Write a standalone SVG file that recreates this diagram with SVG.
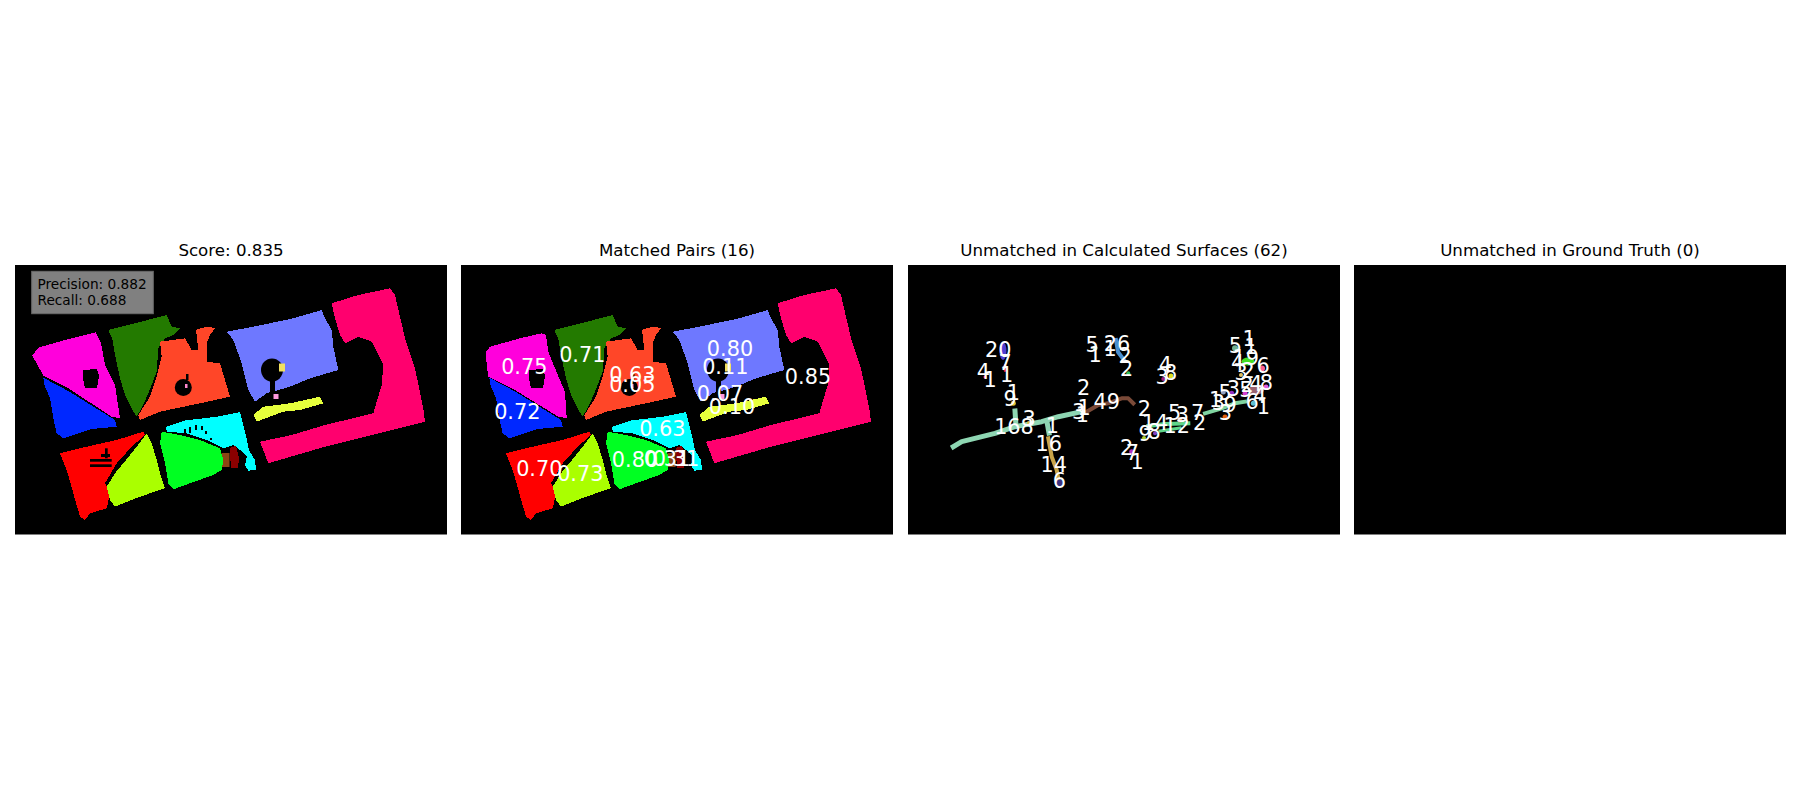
<svg xmlns="http://www.w3.org/2000/svg" xmlns:xlink="http://www.w3.org/1999/xlink" width="1800" height="800" viewBox="0 0 1800 800">
<style>
.title{font-family:"DejaVu Sans","Liberation Sans",sans-serif;font-size:16.67px;fill:#000;text-anchor:middle}
.lbl{font-family:"DejaVu Sans","Liberation Sans",sans-serif;font-size:20.8px;fill:#fff;text-anchor:middle}
.info{font-family:"DejaVu Sans","Liberation Sans",sans-serif;font-size:13.7px;fill:#000}
.panel{fill:#000}
.blk{fill:#000}
polygon{shape-rendering:crispEdges}
</style>
<defs>
<g id="base">
  <polygon fill="#0028ff" points="43.3,377.7 68.3,391 115,420 116.7,426.7 91.7,429 63.3,438.3 56.7,433.3 53.3,418.3 50,398.3 44.3,385"/>
  <polygon fill="#237a00" points="108.3,330 135,323.3 166.7,315 171.7,326.7 180,328.3 173.3,335 165,338.3 158.3,348.3 156.7,371.7 151.7,385 143.3,405 136.7,416.7 133.3,411.7 125,395 120,378.3 115,355 112.3,338.3"/>
  <polygon fill="#ff4628" points="160,341.7 185,338.3 191.7,350 198.3,350 196,330 200,328.3 208.3,326.7 215,328.3 210,335 206.7,343.3 206.7,361.7 220,363.3 230,396.7 200,403.3 160,411.7 140,420 138.3,415 150,396.7 156.7,376.7 161.7,356.7"/>
  <circle class="blk" cx="183.3" cy="387.5" r="8.5"/>
  <rect class="blk" x="186" y="374" width="2.5" height="6"/>
  <rect x="185" y="384" width="2.5" height="4" fill="#ff88cc"/>
  <polygon fill="#6e78ff" points="226.7,331.7 253.3,326.7 293.3,318.3 321.7,310 325,318.3 331.7,330 333.3,346.7 338.3,370 310,378.3 290,386.7 266.7,393.3 255,401.7 248.3,390 241.7,363.3 233.3,340"/>
  <ellipse class="blk" cx="272" cy="370" rx="11" ry="11.5"/>
  <rect class="blk" x="270" y="378" width="5" height="14"/>
  <rect x="279" y="363.5" width="6" height="8" fill="#f0e060"/>
  <rect x="273.5" y="394" width="5" height="5" fill="#ff99dd"/>
  <polygon fill="#e6ff3c" points="253.3,415 263.3,406.7 290,403.3 320,396.7 323.3,403.3 300,410 283.3,411.7 256.7,421.7"/>
  <polygon fill="#ff006e" points="331.7,303.3 358.3,295 390,288.3 395,295 405,338.3 415,368.3 423.3,408.3 425,421.7 385,431.7 325,446.7 268.3,463.3 260,441.7 291.7,435 325,425 373.3,413.3 376.7,401.7 381.7,385 383.3,365 371.7,341.7 358.3,336.7 345,343.3 340,335 335,318.3"/>
  <polygon fill="#00ffff" points="166,427 185,420.5 216.7,416.7 240,412 246,436 249,450 255,460 256,469.5 248.3,470.7 245,465 246.7,456.7 240,450 233.3,445 223.3,448.3 206.7,440 186.7,433.3 166.7,431.7"/>
  <rect x="221.5" y="453" width="8" height="14" fill="#8b4513"/>
  <polygon fill="#8b0000" points="229.5,448 236,446 239,458 238,468 231,468"/>
  <polygon fill="#00ff22" points="161.7,431.7 180,435 200,440 220,448.3 223.3,460 221.7,470 213.3,475 190,483.3 173.3,489.3 168.3,483.3 165,463.3 160,443.3"/>
  <polygon fill="#ff0000" points="60,453.3 86.7,446.7 116.7,440 143.3,431.7 145,435 131.7,446.7 116.7,463.3 105,483.3 110,493.3 106.7,508.3 90,513.3 85,520 80,516.7 73.3,493.3 66.7,470"/>
  <polygon fill="#aaff00" points="146.7,433.3 151.7,443.3 156.7,460 160,473.3 165,488.3 140,496.7 115,506.7 110,500 106.7,486.7 115,473.3 123.3,463.3 136.7,446.7"/>
</g>
</defs>

<g id="panel1">
  <text class="title" x="231" y="255.7">Score: 0.835</text>
  <rect class="panel" x="15" y="265" width="432" height="269.5"/>
  <polygon fill="#ff00dc" points="32.3,355.7 38.3,347.7 65,340 95.7,332.3 101,343.3 105,365 115,385 120,418.3 111.7,416.7 68.3,388.3 43.3,375.7 36.7,363.3"/>
  <polygon class="blk" points="83.3,370 97,369 99,376 97,388.3 85,388.3 83.3,380"/>
  <use xlink:href="#base"/>
  <g class="blk">
    <rect x="105" y="448.3" width="2.7" height="10"/>
    <rect x="101" y="454" width="9" height="3"/>
    <rect x="90" y="459" width="21.7" height="2.7"/>
    <rect x="90" y="464.3" width="21.7" height="2.7"/>
    <rect x="184" y="429" width="2" height="5"/>
    <rect x="189" y="427" width="2" height="6"/>
    <rect x="195" y="425" width="2" height="5"/>
    <rect x="201" y="426" width="2" height="4"/>
    <rect x="205" y="431" width="2" height="3"/>
    <rect x="210" y="438" width="2" height="2"/>
  </g>
  <g id="info">
    <rect x="31.7" y="271.3" width="121.6" height="42.4" fill="#808080" stroke="#6a6a6a" stroke-width="1"/>
    <text class="info" x="37.5" y="288.7">Precision: 0.882</text>
    <text class="info" x="37.5" y="304.7">Recall: 0.688</text>
  </g>
</g>

<g id="panel2">
  <text class="title" x="677" y="255.7">Matched Pairs (16)</text>
  <rect class="panel" x="461" y="265" width="432" height="269.5"/>
  <polygon fill="#ff00dc" points="486,351.7 490,346.7 520,338.3 541.7,333.3 546,335 548.3,351.7 555,368.3 565,391.7 566.7,418.3 558.3,416.7 513.3,389 488.3,376.7 486.7,365"/>
  <polygon class="blk" points="529.3,370 543,369 545,376 543,388.3 531,388.3 529.3,380"/>
  <use xlink:href="#base" transform="translate(446,0)"/>
  <g class="lbl">
    <text x="524.3" y="374.3">0.75</text>
    <text x="582.3" y="361.7">0.71</text>
    <text x="632.3" y="381.7">0.63</text>
    <text x="632.3" y="391.7">0.05</text>
    <text x="730" y="356">0.80</text>
    <text x="725.3" y="374">0.11</text>
    <text x="808" y="384.3">0.85</text>
    <text x="720" y="400.7">0.07</text>
    <text x="732" y="414">0.10</text>
    <text x="517.3" y="419.3">0.72</text>
    <text x="662.3" y="436">0.63</text>
    <text x="635" y="466.7">0.80</text>
    <text x="667" y="465.7">0.31</text>
    <text x="676" y="465.7">0.31</text>
    <text x="539.3" y="476">0.70</text>
    <text x="580.3" y="480.7">0.73</text>
  </g>
</g>

<g id="panel3">
  <text class="title" x="1124" y="255.7">Unmatched in Calculated Surfaces (62)</text>
  <rect class="panel" x="908" y="265" width="432" height="269.5"/>
  <g id="blobs" fill="none" stroke-linecap="square" stroke-linejoin="round">
    <polyline stroke="#8ed6b2" stroke-width="5" points="953.3,446.7 961.7,441.7 995,433.3 1015,426.7 1041.7,421.7 1058.3,416.7 1081.7,411.7"/>
    <polyline stroke="#8ed6b2" stroke-width="5" points="1015,411 1016,426"/>
    <polyline stroke="#8ed6b2" stroke-width="5" points="1047,422 1049,433"/>
    <polyline stroke="#7a4a38" stroke-width="4" points="1086.7,411.7 1098.3,405 1108.3,403.3 1121.7,398.3 1128.3,398.3 1133.3,403.3"/>
    <polyline stroke="#c8a54a" stroke-width="4" points="1048.3,438.3 1051.7,456.7 1056.7,470 1058.3,478.3"/>
    <polyline stroke="#5fd68a" stroke-width="4" points="1148.3,426 1165,424 1188.3,423.3"/>
    <polyline stroke="#5fd68a" stroke-width="3" points="1160,431 1180,428"/>
    <polyline stroke="#7fd4a0" stroke-width="4" points="1205,413.3 1221.7,408.3 1235,403.3 1245,401.7"/>
    <polyline stroke="#4a8fd0" stroke-width="4" points="1116,340 1118,352 1124,360"/>
  </g>
  <g id="dots">
    <ellipse cx="1003" cy="351" rx="3.5" ry="9" fill="#5040d0"/>
    <ellipse cx="1005" cy="368" rx="1.5" ry="4" fill="#e02040"/>
    <circle cx="985" cy="377" r="1.5" fill="#ff3060"/>
    <circle cx="1013.3" cy="403.3" r="2.5" fill="#e0c030"/>
    <circle cx="1029" cy="423" r="2" fill="#d8c040"/>
    <circle cx="1059.3" cy="483.5" r="4" fill="#3c3280"/>
    <circle cx="1083" cy="412" r="2" fill="#d8d040"/>
    <circle cx="1095" cy="348" r="2.5" fill="#7fd4a0"/>
    <circle cx="1128.3" cy="373.3" r="2" fill="#30c060"/>
    <circle cx="1171" cy="376" r="2.5" fill="#e0e020"/>
    <circle cx="1163.3" cy="379" r="2" fill="#a02080"/>
    <circle cx="1155" cy="433.3" r="2" fill="#8040c0"/>
    <circle cx="1144" cy="438" r="2" fill="#b0d030"/>
    <circle cx="1180" cy="420" r="2.5" fill="#e09050"/>
    <circle cx="1131.7" cy="451.7" r="2.5" fill="#b030c0"/>
    <circle cx="1225" cy="417" r="2.5" fill="#e06010"/>
    <ellipse cx="1248" cy="361.5" rx="6.5" ry="4" fill="#44dd22"/>
    <circle cx="1262" cy="368.5" r="3" fill="#ff6090"/>
    <ellipse cx="1256" cy="390" rx="8" ry="4.5" fill="#9a6470"/>
    <circle cx="1245" cy="393.3" r="2.5" fill="#d040d0"/>
    <circle cx="1266" cy="387" r="2.5" fill="#e060e0"/>
    <circle cx="1253.3" cy="403.3" r="2.5" fill="#60c0d0"/>
    <circle cx="1231.7" cy="393.3" r="2.5" fill="#9030c0"/>
    <circle cx="1223.3" cy="392" r="2.5" fill="#90a0c0"/>
    <circle cx="1235" cy="348.3" r="3" fill="#70b090"/>
    <circle cx="1241" cy="375" r="2" fill="#e0c060"/>
  </g>
  <g class="lbl">
    <text x="998.3" y="356.7">20</text>
    <text x="1005" y="370">7</text>
    <text x="1006.7" y="381.7">1</text>
    <text x="983.3" y="379.3">4</text>
    <text x="990" y="386.7">1</text>
    <text x="1013.3" y="400">1</text>
    <text x="1010" y="406">9</text>
    <text x="1014" y="434.3">168</text>
    <text x="1029" y="426">3</text>
    <text x="1052.3" y="432.7">1</text>
    <text x="1048.7" y="451">16</text>
    <text x="1053.7" y="471.7">14</text>
    <text x="1059.3" y="488.3">6</text>
    <text x="1083.7" y="395">2</text>
    <text x="1078.7" y="419.3">3</text>
    <text x="1084" y="415">1</text>
    <text x="1082.3" y="421.7">1</text>
    <text x="1092" y="351.7">5</text>
    <text x="1095" y="361.7">1</text>
    <text x="1106.7" y="409.3">49</text>
    <text x="1117" y="350.7">26</text>
    <text x="1110" y="356">1</text>
    <text x="1125" y="363.3">2</text>
    <text x="1126.7" y="376">2</text>
    <text x="1165.3" y="371.7">4</text>
    <text x="1170.5" y="380">8</text>
    <text x="1162" y="384">3</text>
    <text x="1144.3" y="416">2</text>
    <text x="1155" y="430">14</text>
    <text x="1174.7" y="420">5</text>
    <text x="1182.3" y="421.7">3</text>
    <text x="1197.5" y="420">7</text>
    <text x="1199.5" y="430">2</text>
    <text x="1176.7" y="433.3">12</text>
    <text x="1145" y="440.7">9</text>
    <text x="1154" y="439.3">8</text>
    <text x="1126.7" y="455">2</text>
    <text x="1132.3" y="460">7</text>
    <text x="1137" y="469.3">1</text>
    <text x="1235.3" y="353.3">5</text>
    <text x="1249" y="346">1</text>
    <text x="1250.8" y="354">1</text>
    <text x="1245.7" y="365">19</text>
    <text x="1263" y="373.3">6</text>
    <text x="1237.5" y="370">4</text>
    <text x="1241" y="380">3</text>
    <text x="1248" y="378.3">2</text>
    <text x="1247" y="391.7">2</text>
    <text x="1255.8" y="390.7">4</text>
    <text x="1266.3" y="390">8</text>
    <text x="1225" y="400">5</text>
    <text x="1233.3" y="396">3</text>
    <text x="1215.5" y="406.7">1</text>
    <text x="1218.3" y="410">3</text>
    <text x="1230" y="411.7">9</text>
    <text x="1225.3" y="420">3</text>
    <text x="1245.8" y="397.3">5</text>
    <text x="1252" y="409.3">6</text>
    <text x="1259.8" y="403.3">4</text>
    <text x="1263.3" y="414">1</text>
  </g>
</g>

<g id="panel4">
  <text class="title" x="1570" y="255.7">Unmatched in Ground Truth (0)</text>
  <rect class="panel" x="1354" y="265" width="432" height="269.5"/>
</g>
</svg>
